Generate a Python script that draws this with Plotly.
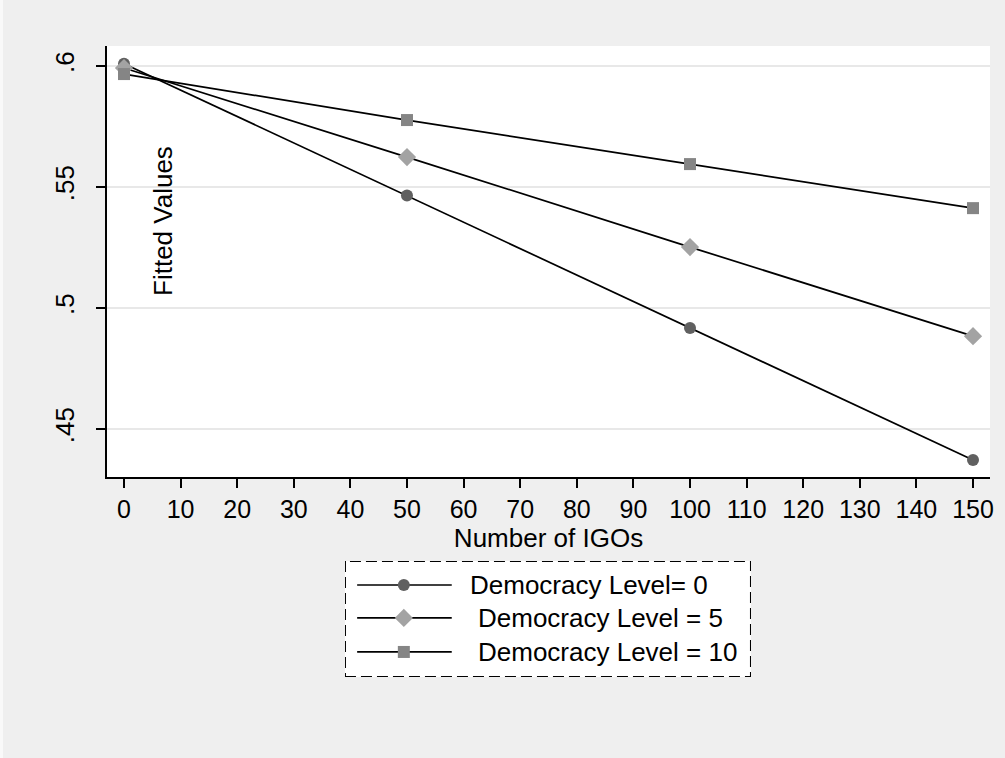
import plotly.graph_objects as go

# ---- data ----
igos = [0, 50, 100, 150]
fitted_dem0 = [0.6010, 0.5465, 0.4918, 0.4372]
fitted_dem5 = [0.5992, 0.5624, 0.5252, 0.4884]
fitted_dem10 = [0.5967, 0.5777, 0.5595, 0.5413]

series_names = ["Democracy Level= 0", "Democracy Level = 5", "Democracy Level = 10"]
series_values = [fitted_dem0, fitted_dem5, fitted_dem10]
x_ticks = list(range(0, 151, 10))
y_ticks = [0.45, 0.5, 0.55, 0.6]
y_tick_labels = [".45", ".5", ".55", ".6"]

# ---- styles ----
symbols = ["circle", "diamond", "square"]
marker_colors = ["#606060", "#a3a3a3", "#858585"]
marker_sizes = [12, 14, 12]
FONT = "Arial, Liberation Sans, Helvetica, sans-serif"

fig = go.Figure()

for name, vals, sym, col, sz in zip(series_names, series_values, symbols, marker_colors, marker_sizes):
    fig.add_trace(go.Scatter(
        x=igos, y=vals, mode="lines+markers", name=name,
        line=dict(color="black", width=1.7),
        marker=dict(symbol=sym, color=col, size=sz, line=dict(width=0)),
        showlegend=False, xaxis="x", yaxis="y",
    ))

# ---- manual legend (dashed box) on an overlay axis ----
row_y = [0.793, 0.509, 0.216]
text_x = [0.303, 0.323, 0.323]
for name, sym, col, sz, ry, tx in zip(series_names, symbols, marker_colors, marker_sizes, row_y, text_x):
    fig.add_trace(go.Scatter(
        x=[0.030, 0.145, 0.263], y=[ry, ry, ry], mode="lines",
        line=dict(color="black", width=1.7), showlegend=False,
        xaxis="x2", yaxis="y2", hoverinfo="skip",
    ))
    fig.add_trace(go.Scatter(
        x=[0.145], y=[ry], mode="markers",
        marker=dict(symbol=sym, color=col, size=sz, line=dict(width=0)),
        showlegend=False, xaxis="x2", yaxis="y2", hoverinfo="skip",
    ))
    fig.add_annotation(
        x=tx, y=ry, xref="x2", yref="y2", text=name, showarrow=False,
        xanchor="left", yanchor="middle", font=dict(family=FONT, size=26, color="black"),
    )

fig.add_shape(
    type="rect", xref="x2", yref="y2", x0=0, x1=1, y0=0, y1=1,
    line=dict(color="black", width=2, dash="11px,5px"), fillcolor="white", layer="below",
)

# thin light strip at the far left edge of the image
fig.add_shape(
    type="rect", xref="paper", yref="paper", x0=-0.1212, x1=-0.1178, y0=-0.1, y1=1.1,
    line=dict(width=0), fillcolor="#f9f9f9", layer="below",
)

# y-axis title inside the plot area
fig.add_annotation(
    x=0.0634, y=0.7316, xref="paper", yref="paper", text="Fitted Values",
    textangle=-90, showarrow=False, xanchor="center", yanchor="middle",
    font=dict(family=FONT, size=26, color="black"),
)

fig.update_layout(
    width=1005, height=758,
    margin=dict(l=107, r=15, t=46, b=60),
    paper_bgcolor="#efefef", plot_bgcolor="white",
    font=dict(family=FONT, size=26, color="black"),
    xaxis=dict(
        domain=[0, 1], range=[-3, 153], tickmode="array", tickvals=x_ticks,
        ticks="outside", ticklen=9, tickwidth=1.5, tickcolor="black",
        showline=True, linecolor="black", linewidth=1.5, showgrid=False, zeroline=False,
        tickfont=dict(family=FONT, size=25), anchor="y",
        title=dict(text="Number of IGOs", font=dict(family=FONT, size=26), standoff=4),
    ),
    yaxis=dict(
        domain=[0.339, 1], range=[0.4302, 0.6083], tickmode="array",
        tickvals=y_ticks, ticktext=y_tick_labels, tickangle=-90,
        ticks="outside", ticklen=9, tickwidth=1.5, tickcolor="black",
        showline=True, linecolor="black", linewidth=1.5,
        showgrid=True, gridcolor="#e8e8e8", gridwidth=1.5, zeroline=False,
        tickfont=dict(family=FONT, size=26), anchor="x", ticklabelstandoff=12,
    ),
    xaxis2=dict(domain=[0.2695, 0.7293], range=[0, 1], visible=False, anchor="y2", fixedrange=True),
    yaxis2=dict(domain=[0.0322, 0.2101], range=[0, 1], visible=False, anchor="x2", fixedrange=True),
    showlegend=False,
)

fig.write_html(
    "out.html",
    config={"displayModeBar": False},
    post_script="document.body.style.margin='0';",
)
